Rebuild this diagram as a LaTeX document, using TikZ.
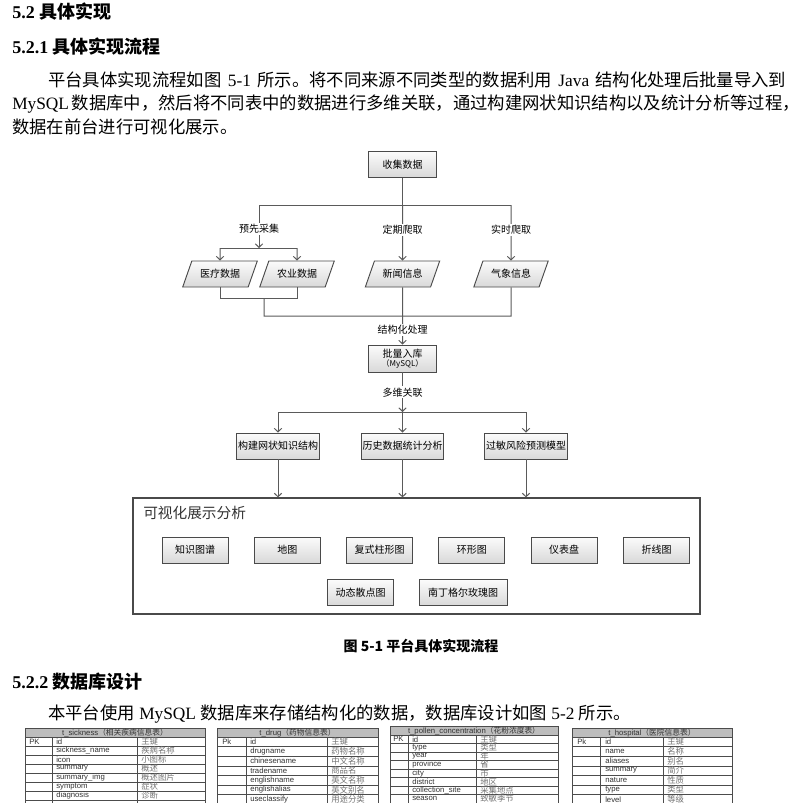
\documentclass[tikz,border=0pt]{standalone}
\usepackage{fontspec}
\usepackage{tikz}
\usetikzlibrary{arrows.meta, shapes.geometric}
\setmainfont{Liberation Serif}
\newfontfamily\cjk{Noto Sans CJK SC}
\newfontfamily\tabfont{Liberation Sans}
\XeTeXlinebreaklocale "zh"
\XeTeXlinebreakskip=0pt plus 2pt
\definecolor{linegray}{HTML}{5A5A5A}
\definecolor{boxgray}{HTML}{4A4A4A}
\definecolor{headgray}{HTML}{BDBDBD}
\newcommand{\bodysize}{\fontsize{13pt}{16pt}\selectfont}
\newcommand{\headsize}{\fontsize{13.5pt}{16pt}\selectfont}

\tikzset{
  txt/.style={anchor=west, inner sep=0},
  procbox/.style={draw=boxgray, line width=0.7pt, top color=gray!3, bottom color=gray!30, minimum width=51pt, minimum height=19.5pt, inner sep=1pt, font=\cjk\fontsize{7.5pt}{9pt}\selectfont},
  databox/.style={procbox, trapezium, trapezium left angle=60, trapezium right angle=120, trapezium stretches=true, minimum width=56pt},
  chartbox/.style={procbox, minimum width=49.5pt},
  flow/.style={draw=linegray, line width=0.75pt},
  arr/.style={flow, -{Straight Barb[length=2.6pt, width=5.5pt]}},
  lab/.style={fill=white, inner sep=1pt, font=\cjk\fontsize{7.5pt}{9pt}\selectfont},
  tabline/.style={draw=black!70, line width=0.4pt},
  tabtext/.style={anchor=west, inner sep=0, font=\tabfont\fontsize{5.8pt}{6pt}\selectfont, text=black!80},
  tabcn/.style={anchor=west, inner sep=0, font=\cjk\fontsize{6.3pt}{7pt}\selectfont, text=black!55},
}

\begin{document}
\begin{tikzpicture}[x=0.75pt, y=-0.75pt]
\useasboundingbox (0,0) rectangle (798,803);
\clip (0,0) rectangle (798,803);
\fill[white] (0,0) rectangle (798,803);

% page text
\node[txt, font=\headsize\bfseries] (h52) at (12,12) {5.2 {\cjk 具体实现}};
\node[txt, font=\headsize\bfseries] (h521) at (12,47) {5.2.1 {\cjk 具体实现流程}};
\node[txt, font=\bodysize] (p1) at (48,80) {\makebox[553.5pt][s]{{\cjk 平台具体实现流程如图} 5-1 {\cjk 所示。将不同来源不同类型的数据利用} Java {\cjk 结构化处理后批量导入到}}};
\node[txt, font=\bodysize] (p2) at (12,104) {\makebox[589.5pt][s]{MySQL\ {\cjk 数据库中，然后将不同表中的数据进行多维关联，通过构建网状知识结构以及统计分析等过程，}}};
\node[txt, font=\bodysize] (p3) at (12,127) {\cjk 数据在前台进行可视化展示。};

% flow chart
\node[procbox] (collect) at (402.5,164.5) {收集数据};
\node[databox] (med) at (220,274) {医疗数据};
\node[databox] (agr) at (297,274) {农业数据};
\node[databox] (news) at (402.5,274) {新闻信息};
\node[databox] (weather) at (511,274) {气象信息};
\node[procbox, minimum height=20.25pt, align=center] (store) at (402.5,358.5) {批量入库\\[-2pt]{\fontsize{6pt}{7pt}\selectfont （MySQL）}};
\node[procbox, minimum width=61.5pt] (net) at (278,446) {构建网状知识结构};
\node[procbox, minimum width=61.5pt] (hist) at (402.5,446) {历史数据统计分析};
\node[procbox, minimum width=61.5pt] (risk) at (526,446) {过敏风险预测模型};

\node[draw=boxgray, line width=0.9pt, fill=white, minimum width=425.25pt, minimum height=87pt, inner sep=0] (vis) at (416.5,556) {};
\node[txt, font=\cjk\fontsize{11pt}{13pt}\selectfont, text=black!80] (vistitle) at (143,513) {可视化展示分析};
\foreach \t [count=\i from 0] in {知识图谱, 地图, 复式柱形图, 环形图, 仪表盘, 折线图}
  \node[chartbox] (c\i) at ({195+92.3*\i},550) {\t};
\node[chartbox] (c6) at (360.5,592.5) {动态散点图};
\node[chartbox, minimum width=66pt] (c7) at (463,592.5) {南丁格尔玫瑰图};

\coordinate (s1) at (402.5,205);
\coordinate (sl) at (259,205);
\coordinate (sr) at (511,205);
\coordinate (jl) at (259,248);
\coordinate (ml) at (220,248);
\coordinate (mr) at (297,248);
\coordinate (b1) at (297,298);
\coordinate (b2) at (264,298);
\coordinate (b3) at (511,316);
\coordinate (t1) at (402.5,412);
\coordinate (tl) at (278,412);
\coordinate (tr) at (526,412);

\draw[flow] (collect) -- (s1);
\draw[flow] (sl) -- (sr);
\draw[arr] (sl) -- node[lab, pos=0.55] {预先采集} (jl);
\draw[flow] (ml) -- (mr);
\draw[arr] (ml) -- (med);
\draw[arr] (mr) -- (agr);
\draw[arr] (s1) -- node[lab, pos=0.45] {定期爬取} (news);
\draw[arr] (sr) -- node[lab, pos=0.45] {实时爬取} (weather);
\draw[flow] (med) |- (b1) -- (agr);
\draw[flow] (b2) |- (b3) -- (weather);
\draw[arr] (news) -- node[lab, pos=0.74] {结构化处理} (store);
\draw[arr] (store) -- node[lab] {多维关联} (t1);
\draw[flow] (tl) -- (tr);
\draw[arr] (tl) -- (net);
\draw[arr] (t1) -- (hist);
\draw[arr] (tr) -- (risk);
\foreach \b in {net, hist, risk}
  \draw[arr] (\b) -- (\b |- vis.north);

\node[font=\cjk\bfseries\fontsize{10.5pt}{12pt}\selectfont] (cap) at (421,646) {图 5-1 平台具体实现流程};
\node[txt, font=\headsize\bfseries] (h522) at (12,682) {5.2.2 {\cjk 数据库设计}};
\node[txt, font=\bodysize] (p4) at (48,714) {{\cjk 本平台使用} MySQL {\cjk 数据库来存储结构化的数据，数据库设计如图} 5-2 {\cjk 所示。}};

% t_sickness
\fill[headgray] (25,728) rectangle (205,737);
\draw[tabline] (25,728) rectangle (205,737);
\node[tabtext, anchor=center] (sk) at (115,732.5) {t\_sickness{\cjk （相关疾病信息表）}};
\foreach \f/\c [count=\i from 0] in {id/主键, sickness\_name/疾病名称, icon/小图标, summary/概述, summary\_img/概述图片, symptom/症状, diagnosis/诊断}
{
  \draw[tabline] (25,{737+9*\i}) rectangle (205,{746+9*\i});
  \node[tabtext] (sk-f\i) at (56,{741.5+9*\i}) {\f};
  \node[tabcn] (sk-c\i) at (141,{741.5+9*\i}) {\c};
}
\draw[tabline] (25,800) rectangle (205,809);
\draw[tabline] (52,737) -- (52,803) (137,737) -- (137,803);
\node[tabtext] (sk-pk) at (29,741.5) {PK};

% t_drug
\fill[headgray] (217,728) rectangle (378,737);
\draw[tabline] (217,728) rectangle (378,737);
\node[tabtext, anchor=center] (dr) at (297.5,732.5) {t\_drug{\cjk （药物信息表）}};
\foreach \f/\c [count=\i from 0] in {id/主键, drugname/药物名称, chinesename/中文名称, tradename/商品名, englishname/英文名称, englishalias/英文别名, useclassify/用途分类}
{
  \draw[tabline] (217,{737+9.6*\i}) rectangle (378,{746.6+9.6*\i});
  \node[tabtext] (dr-f\i) at (250,{741.8+9.6*\i}) {\f};
  \node[tabcn] (dr-c\i) at (331,{741.8+9.6*\i}) {\c};
}
\draw[tabline] (246,737) -- (246,803) (327,737) -- (327,803);
\node[tabtext] (dr-pk) at (222,741.8) {Pk};

% t_pollen_concentration
\fill[headgray] (390,726) rectangle (558,735);
\draw[tabline] (390,726) rectangle (558,735);
\node[tabtext, anchor=center] (po) at (474,730.5) {t\_pollen\_concentration{\cjk （花粉浓度表）}};
\foreach \f/\c [count=\i from 0] in {id/主键, type/类型, year/年, province/省, city/市, district/地区, collection\_site/采集地点, season/致敏季节}
{
  \draw[tabline] (390,{735+8.5*\i}) rectangle (558,{743.5+8.5*\i});
  \node[tabtext] (po-f\i) at (412,{739.25+8.5*\i}) {\f};
  \node[tabcn] (po-c\i) at (480,{739.25+8.5*\i}) {\c};
}
\draw[tabline] (408,735) -- (408,803) (476,735) -- (476,803);
\node[tabtext] (po-pk) at (393,739.25) {PK};

% t_hospital
\fill[headgray] (572,728) rectangle (732,737);
\draw[tabline] (572,728) rectangle (732,737);
\node[tabtext, anchor=center] (ho) at (652,732.5) {t\_hospital{\cjk （医院信息表）}};
\foreach \f/\c [count=\i from 0] in {id/主键, name/名称, aliases/别名, summary/简介, nature/性质, type/类型, level/等级}
{
  \draw[tabline] (572,{737+9.6*\i}) rectangle (732,{746.6+9.6*\i});
  \node[tabtext] (ho-f\i) at (605,{741.8+9.6*\i}) {\f};
  \node[tabcn] (ho-c\i) at (667,{741.8+9.6*\i}) {\c};
}
\draw[tabline] (600,737) -- (600,803) (663,737) -- (663,803);
\node[tabtext] (ho-pk) at (577,741.8) {Pk};
\end{tikzpicture}
\end{document}
